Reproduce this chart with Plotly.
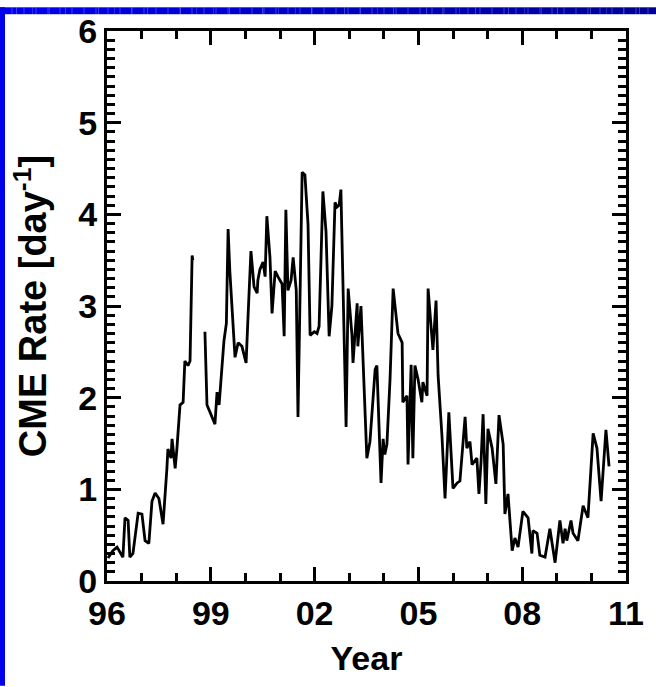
import plotly.graph_objects as go

# CME rate time series (decimal year, events per day); None marks the data gap
years = [
    1996.03, 1996.17, 1996.29, 1996.46, 1996.52, 1996.61, 1996.66, 1996.75, 1996.90, 1997.01,
    1997.10, 1997.21, 1997.30, 1997.39, 1997.50, 1997.62, 1997.73, 1997.76, 1997.85, 1997.88,
    1997.97, 1998.02, 1998.11, 1998.20, 1998.25, 1998.34, 1998.40, 1998.46, 1998.48, 1998.65,
    1998.83, 1998.89, 1998.98, 1999.12, 1999.18, 1999.24, 1999.38, 1999.45, 1999.50, 1999.55,
    1999.70, 1999.79, 1999.90, 2000.02, 2000.08, 2000.16, 2000.25, 2000.34, 2000.36, 2000.42,
    2000.51, 2000.57, 2000.62, 2000.71, 2000.77, 2000.86, 2000.94, 2001.06, 2001.12, 2001.17,
    2001.23, 2001.32, 2001.38, 2001.47, 2001.52, 2001.64, 2001.72, 2001.81, 2001.87, 2001.99,
    2002.07, 2002.13, 2002.24, 2002.33, 2002.42, 2002.50, 2002.59, 2002.65, 2002.71, 2002.76,
    2002.91, 2002.97, 2003.08, 2003.11, 2003.23, 2003.25, 2003.34, 2003.40, 2003.51, 2003.60,
    2003.75, 2003.80, 2003.92, 2003.98, 2004.03, 2004.09, 2004.18, 2004.27, 2004.41, 2004.53,
    2004.55, 2004.67, 2004.70, 2004.79, 2004.84, 2004.90, 2004.99, 2005.10, 2005.13, 2005.25,
    2005.28, 2005.42, 2005.51, 2005.57, 2005.68, 2005.77, 2005.88, 2006.00, 2006.12, 2006.20,
    2006.35, 2006.40, 2006.49, 2006.55, 2006.69, 2006.75, 2006.81, 2006.87, 2006.95, 2007.01,
    2007.13, 2007.24, 2007.33, 2007.45, 2007.50, 2007.59, 2007.71, 2007.79, 2007.88, 2008.02,
    2008.17, 2008.28, 2008.31, 2008.43, 2008.51, 2008.66, 2008.80, 2008.95, 2009.09, 2009.18,
    2009.24, 2009.29, 2009.41, 2009.47, 2009.61, 2009.76, 2009.90, 2010.05, 2010.16, 2010.28,
    2010.42, 2010.51,
]
rates = [
    0.25, 0.33, 0.37, 0.26, 0.69, 0.66, 0.26, 0.30, 0.74, 0.73,
    0.44, 0.41, 0.87, 0.96, 0.90, 0.62, 1.22, 1.44, 1.34, 1.55,
    1.23, 1.44, 1.92, 1.95, 2.40, 2.35, 2.40, 3.55, 3.50, None,
    2.72, 1.92, 1.84, 1.71, 2.06, 1.92, 2.62, 2.81, 3.84, 3.38,
    2.44, 2.60, 2.56, 2.38, 2.92, 3.60, 3.21, 3.14, 3.28, 3.40,
    3.48, 3.32, 3.98, 3.53, 2.92, 3.38, 3.32, 3.24, 2.67, 4.05,
    3.17, 3.28, 3.53, 3.17, 1.79, 4.46, 4.43, 3.89, 2.68, 2.72,
    2.70, 2.78, 4.25, 3.81, 2.67, 3.00, 4.13, 4.08, 4.10, 4.27,
    1.68, 3.19, 2.68, 2.38, 3.03, 2.56, 3.00, 2.40, 1.34, 1.52,
    2.31, 2.35, 1.07, 1.55, 1.38, 1.49, 2.20, 3.19, 2.70, 2.60,
    1.95, 2.02, 1.27, 2.36, 1.34, 2.35, 2.20, 1.95, 2.17, 2.02,
    3.19, 2.52, 3.06, 2.24, 1.59, 0.90, 1.84, 1.01, 1.07, 1.09,
    1.79, 1.45, 1.52, 1.27, 1.34, 0.95, 1.30, 1.82, 0.84, 1.66,
    1.45, 1.06, 1.81, 1.49, 0.73, 0.95, 0.33, 0.47, 0.37, 0.76,
    0.69, 0.30, 0.55, 0.52, 0.28, 0.26, 0.57, 0.20, 0.66, 0.41,
    0.57, 0.44, 0.66, 0.52, 0.44, 0.82, 0.69, 1.61, 1.45, 0.87,
    1.65, 1.25,
]

year_ticks = [1996, 1999, 2002, 2005, 2008, 2011]
year_labels = ["96", "99", "02", "05", "08", "11"]

W, H = 656, 687
ML, MR, MT, MB = 107, 30, 24, 106
PW, PH = W - ML - MR, H - MT - MB

FONT = "Liberation Sans, Arial, Helvetica, sans-serif"
LABEL_FONT = dict(family=FONT, size=34, color="black", weight="bold")

fig = go.Figure(go.Scatter(
    x=years, y=rates, mode="lines",
    line=dict(color="black", width=2.8),
))

# boxed frame with inside ticks mirrored onto the top and right sides
fig.update_xaxes(
    range=[1996, 2011], tickmode="array", tickvals=year_ticks, ticktext=year_labels,
    showline=True, linecolor="black", linewidth=3, mirror="ticks",
    ticks="inside", ticklen=14, tickwidth=3, tickcolor="black",
    minor=dict(dtick=1, tick0=1996, ticks="inside", ticklen=8,
               tickcolor="black", tickwidth=3),
    tickfont=LABEL_FONT,
    title=dict(text="Year", font=LABEL_FONT, standoff=16),
)
fig.update_yaxes(
    range=[0, 6], dtick=1, tick0=0,
    showline=True, linecolor="black", linewidth=3, mirror="ticks",
    ticks="inside", ticklen=14, tickwidth=3, tickcolor="black",
    minor=dict(dtick=0.1, ticks="inside", ticklen=8,
               tickcolor="black", tickwidth=3),
    tickfont=LABEL_FONT,
    title=dict(text="CME Rate [day<sup>-1</sup>]",
               font=dict(family=FONT, size=38, color="black", weight="bold"),
               standoff=20),
)


def px_x(p):
    return (p - ML) / PW


def px_y(p):
    return 1 - (p - MT) / PH


# slide frame: blue band along the top and the left edge
shapes = []
nseg = 40
for i in range(nseg):
    t = i / (nseg - 1)
    b = int(240 - 90 * t)
    x0 = i * W / nseg
    x1 = (i + 1) * W / nseg
    shapes.append(dict(type="rect", xref="paper", yref="paper",
                       x0=px_x(x0), x1=px_x(x1), y0=px_y(7), y1=px_y(0),
                       fillcolor=f"rgb(0,0,{b})", line=dict(width=0)))
for k in range(0, W, 12):
    shapes.append(dict(type="line", xref="paper", yref="paper",
                       x0=px_x(k), x1=px_x(k), y0=px_y(7), y1=px_y(0),
                       line=dict(color="rgba(120,140,255,0.45)", width=1)))
shapes.append(dict(type="rect", xref="paper", yref="paper",
                   x0=px_x(0), x1=px_x(5), y0=px_y(H), y1=px_y(0),
                   fillcolor="rgb(0,0,235)", line=dict(width=0)))

fig.update_layout(
    width=W, height=H,
    margin=dict(l=ML, r=MR, t=MT, b=MB),
    paper_bgcolor="white", plot_bgcolor="white",
    showlegend=False, shapes=shapes,
)

fig.write_html("out.html")
